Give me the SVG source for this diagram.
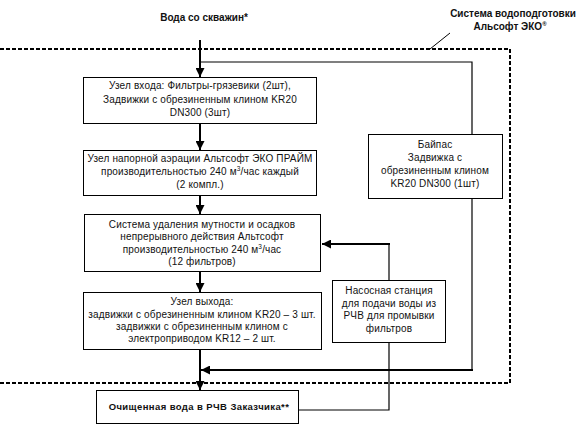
<svg xmlns="http://www.w3.org/2000/svg" width="584" height="439" viewBox="0 0 584 439">
<defs>
<style>
text{font-family:"Liberation Sans",Arial,sans-serif;font-size:10px;letter-spacing:0.15px;fill:#111;text-anchor:middle}
.b{font-weight:bold;font-size:10px;letter-spacing:0}
.box{fill:#fff;stroke:#000;stroke-width:1}
.thick{fill:none;stroke:#000;stroke-width:2}
.thin{fill:none;stroke:#000;stroke-width:1.2}
.dash{fill:none;stroke:#000;stroke-width:2;stroke-dasharray:4 2}
</style>
<marker id="ah" viewBox="0 0 10 10" refX="10" refY="5" markerWidth="4.5" markerHeight="4.5" orient="auto" markerUnits="strokeWidth">
<path d="M0,0 L10,5 L0,10 z" fill="#000"/>
</marker>
</defs>
<rect width="584" height="439" fill="#fff"/>
<g id="boundary">
<path class="dash" d="M0,49 H510 V383 H0"/>
<line x1="430" y1="49" x2="450" y2="33" stroke="#000" stroke-width="1"/>
<text class="b" x="513" y="17">Система водоподготовки</text>
<text class="b" x="510" y="30">Альсофт ЭКО<tspan font-size="6" dy="-4">®</tspan></text>
</g>
<g id="connectors">
<line class="thick" x1="200" y1="40" x2="200" y2="77" marker-end="url(#ah)"/>
<polyline class="thin" points="200,62 472,62 472,134"/>
<line class="thick" x1="200" y1="123" x2="200" y2="150" marker-end="url(#ah)"/>
<line class="thick" x1="200" y1="195" x2="200" y2="214" marker-end="url(#ah)"/>
<line class="thick" x1="200" y1="271" x2="200" y2="292" marker-end="url(#ah)"/>
<line class="thick" x1="200" y1="349" x2="200" y2="390" marker-end="url(#ah)"/>
<line class="thin" x1="472" y1="198" x2="472" y2="371"/>
<line class="thick" x1="473" y1="370" x2="201" y2="370" marker-end="url(#ah)"/>
<line class="thin" x1="389" y1="280" x2="389" y2="244"/>
<line class="thick" x1="390" y1="244" x2="322" y2="244" marker-end="url(#ah)"/>
<polyline class="thin" points="389,342 389,410 298,410"/>
</g>
<g id="source">
<text class="b" x="204" y="21">Вода со скважин*</text>
</g>
<g id="inlet">
<rect class="box" x="83.5" y="77.5" width="233" height="46"/>
<text x="200" y="89">Узел входа: Фильтры-грязевики (2шт),</text>
<text x="200" y="103">Задвижки с обрезиненным клином KR20</text>
<text x="200" y="116">DN300 (3шт)</text>
</g>
<g id="aeration">
<rect class="box" x="83.5" y="150.5" width="233" height="45"/>
<text x="200" y="162">Узел напорной аэрации Альтсофт ЭКО ПРАЙМ</text>
<text x="200" y="175">производительностью 240 м<tspan font-size="6.5" dy="-4">3</tspan><tspan dy="4">/час каждый</tspan></text>
<text x="200" y="188">(2 компл.)</text>
</g>
<g id="filters">
<rect class="box" x="84.5" y="214.5" width="236" height="57"/>
<text x="202" y="228">Система удаления мутности и осадков</text>
<text x="202" y="240">непрерывного действия Альтсофт</text>
<text x="202" y="253">производительностью 240 м<tspan font-size="6.5" dy="-4">3</tspan><tspan dy="4">/час</tspan></text>
<text x="202" y="265">(12 фильтров)</text>
</g>
<g id="outlet">
<rect class="box" x="83.5" y="292.5" width="238" height="57"/>
<text x="202" y="305">Узел выхода:</text>
<text x="202" y="318">задвижки с обрезиненным клином KR20 – 3 шт.</text>
<text x="202" y="330">задвижки с обрезиненным клином с</text>
<text x="202" y="342">электроприводом KR12 – 2 шт.</text>
</g>
<g id="bypass">
<rect class="box" x="368.5" y="134.5" width="134" height="64"/>
<text x="435" y="148">Байпас</text>
<text x="435" y="161">Задвижка с</text>
<text x="435" y="174">обрезиненным клином</text>
<text x="435" y="187">KR20 DN300 (1шт)</text>
</g>
<g id="pump">
<rect class="box" x="332.5" y="280.5" width="113" height="62"/>
<text x="389" y="294">Насосная станция</text>
<text x="389" y="307">для подачи воды из</text>
<text x="389" y="319">РЧВ для промывки</text>
<text x="389" y="332">фильтров</text>
</g>
<g id="customer">
<rect class="box" x="96.5" y="390.5" width="202" height="33"/>
<text class="b" x="199" y="410" style="font-size:9.5px;letter-spacing:0.4px">Очищенная вода в РЧВ Заказчика**</text>
</g>
</svg>
